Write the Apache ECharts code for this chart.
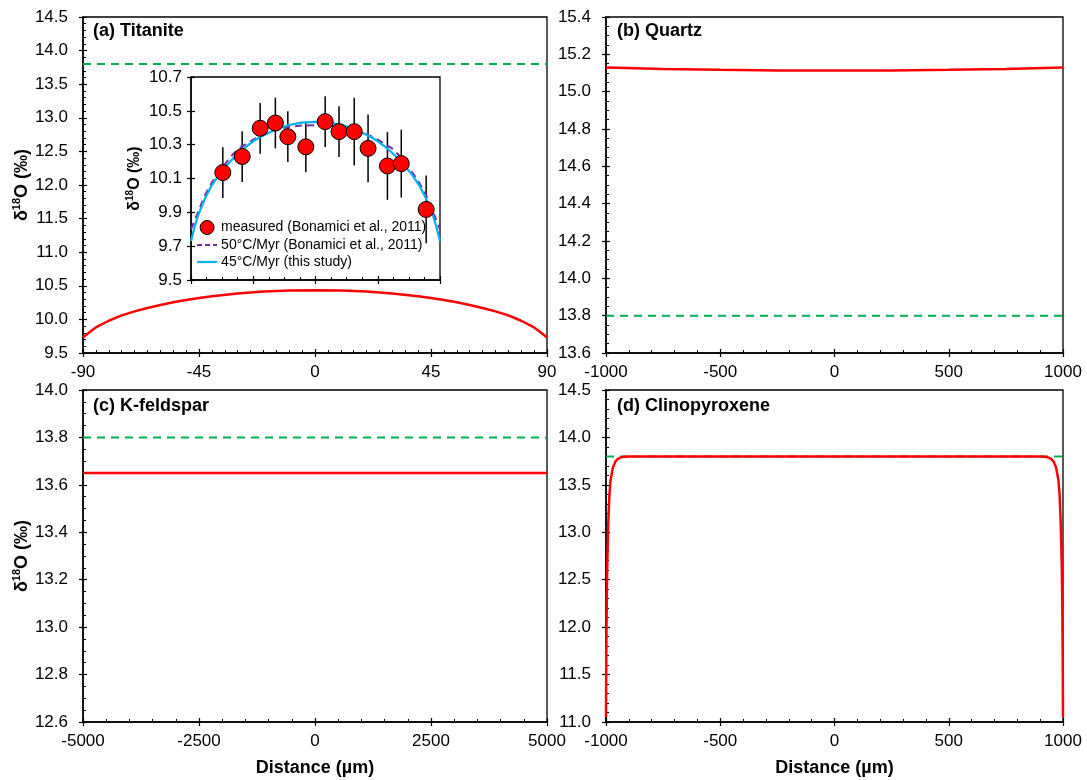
<!DOCTYPE html>
<html><head><meta charset="utf-8">
<script src="https://cdn.jsdelivr.net/npm/echarts@6/dist/echarts.min.js"></script>
<style>html,body{margin:0;background:#fff}#c{width:1087px;height:780px}</style>
</head><body><div id="c"></div><script>
// ---- data ----
const refLevel = 13.8; // green dashed reference
// (a) Titanite model profile (45°C/Myr)
const titaniteX = [-90,-87.5,-85,-80,-75,-70,-65,-60,-55,-50,-45,-40,-30,-20,-10,0,10,20,30,40,45,50,55,60,65,70,75,80,85,87.5,90];
const titaniteY = [9.73,9.81,9.88,9.98,10.06,10.12,10.17,10.215,10.255,10.29,10.32,10.345,10.385,10.415,10.43,10.435,10.43,10.415,10.385,10.345,10.32,10.29,10.255,10.215,10.17,10.12,10.06,9.98,9.88,9.81,9.73];
// 50°C/Myr (Bonamici et al., 2011)
const bonaX = [-90,-85,-80,-75,-70,-65,-60,-55,-50,-45,-40,-30,-20,-10,0,10,20,30,40,45,50,55,60,65,70,75,80,85,90];
const bonaY = [9.80,9.90,10.0,10.075,10.135,10.19,10.24,10.28,10.305,10.33,10.35,10.385,10.405,10.413,10.415,10.413,10.405,10.385,10.35,10.33,10.305,10.28,10.24,10.19,10.135,10.075,10.0,9.90,9.80];
// measured (Bonamici et al., 2011)
const measX = [-67,-53,-40,-29,-20,-7,7,17,28,38,52,62,80];
const measY = [10.135,10.23,10.397,10.428,10.347,10.287,10.436,10.377,10.377,10.278,10.174,10.188,9.917];
const measErr = [0.15,0.15,0.15,0.15,0.15,0.15,0.15,0.15,0.2,0.2,0.2,0.2,0.2];
// (b) Quartz
const quartzX = [-1000,-750,-500,-250,0,250,500,750,1000];
const quartzY = [15.13,15.122,15.117,15.114,15.113,15.114,15.117,15.122,15.13];
// (c) K-feldspar
const kfsX = [-5000,-2500,0,2500,5000];
const kfsY = [13.65,13.65,13.65,13.65,13.65];
// (d) Clinopyroxene
const cpxX = [-1000,-999,-997,-995,-990,-985,-980,-970,-960,-950,-940,-930,-920,-900,0,900,920,930,940,950,960,970,980,985,990,995,997,999,1000];
const cpxY = [11.05,11.6,12.2,12.6,13.1,13.4,13.55,13.68,13.74,13.77,13.785,13.793,13.797,13.8,13.8,13.8,13.797,13.793,13.785,13.77,13.74,13.68,13.55,13.4,13.1,12.6,12.2,11.6,11.05];
// axis settings
const xRanges = [[-90,90,45,9],[-1000,1000,500,5],[-5000,5000,2500,5],[-1000,1000,500,5],[-90,90,45,4]];
const yRanges = [[9.5,14.5,0.5,5],[13.6,15.4,0.2,4],[12.6,14.0,0.2,4],[11.0,14.5,0.5,5],[9.5,10.7,0.2,1]];
const insetTicks = [9.5,9.7,9.9,10.1,10.3,10.5,10.7];
const panelTitles = ['(a) Titanite','(b) Quartz','(c) K-feldspar','(d) Clinopyroxene'];
const legendNames = ['measured (Bonamici et al., 2011)','50°C/Myr (Bonamici et al., 2011)','45°C/Myr (this study)'];
const xTitle = 'Distance (µm)';
const yTitle = '{a|δ}{s|18}{a|O (‰)}';

const FONT = '"Liberation Sans", Arial, sans-serif';
const zip = (xs, ys) => xs.map((x, i) => [x, ys[i]]);
const grids = [
  {left: 83, top: 17, width: 464, height: 336},
  {left: 606, top: 17, width: 457, height: 336},
  {left: 83, top: 390, width: 464, height: 332},
  {left: 606, top: 390, width: 457, height: 332},
  {left: 191, top: 77, width: 249, height: 203}
].map(g => Object.assign(g, {show: true, borderColor: '#000', borderWidth: 1.3, backgroundColor: 'transparent'}));

const richName = {
  a: {fontSize: 18, fontWeight: 'bold', color: '#000', fontFamily: FONT, lineHeight: 22},
  s: {fontSize: 11, fontWeight: 'bold', color: '#000', fontFamily: FONT, lineHeight: 12, verticalAlign: 'top'}
};
const richInset = {
  a: {fontSize: 16, fontWeight: 'bold', color: '#000', fontFamily: FONT, lineHeight: 20},
  s: {fontSize: 10, fontWeight: 'bold', color: '#000', fontFamily: FONT, lineHeight: 11, verticalAlign: 'top'}
};

const xAxes = [], yAxes = [];
function inner(dim, i) {
  const r = dim === 'x' ? xRanges[i] : yRanges[i];
  const isInset = i === 4;
  const ax = {
    type: 'value', gridIndex: i, min: r[0], max: r[1], interval: r[2],
    position: dim === 'x' ? 'bottom' : 'left',
    axisLine: {show: true, onZero: false, lineStyle: {color: '#000', width: 1.5}},
    axisTick: {show: true, inside: true, length: 4, lineStyle: {color: '#000', width: 1.2}},
    minorTick: {show: r[3] > 1, splitNumber: r[3], length: 3, lineStyle: {color: '#000', width: 1}},
    splitLine: {show: false},
    axisLabel: {show: !(isInset && dim === 'x'), color: '#000', fontSize: 17, fontFamily: FONT,
      margin: dim === 'x' ? 11 : (isInset ? 9 : 15),
      formatter: v => dim === 'x' ? String(Math.round(v)) : v.toFixed(1)}
  };
  if (isInset && dim === 'y') {
    ax.axisTick.customValues = insetTicks;
    ax.axisLabel.customValues = insetTicks;
  }
  if (dim === 'x' && (i === 2 || i === 3)) {
    ax.name = xTitle; ax.nameLocation = 'middle'; ax.nameGap = 37;
    ax.nameTextStyle = {fontSize: 18, fontWeight: 'bold', color: '#000', fontFamily: FONT};
  }
  if (dim === 'y' && (i === 0 || i === 2)) {
    ax.name = yTitle; ax.nameLocation = 'middle'; ax.nameGap = 36;
    ax.nameTextStyle = {rich: richName};
  }
  if (dim === 'y' && isInset) {
    ax.name = yTitle; ax.nameLocation = 'middle'; ax.nameGap = 46;
    ax.nameTextStyle = {rich: richInset};
  }
  return ax;
}
function outer(dim, i) {
  const r = dim === 'x' ? xRanges[i] : yRanges[i];
  const ax = {
    type: 'value', gridIndex: i, min: r[0], max: r[1], interval: r[2],
    position: dim === 'x' ? 'bottom' : 'left',
    axisLine: {show: false, onZero: false},
    axisTick: {show: true, inside: false, length: 4, lineStyle: {color: '#000', width: 1.2}},
    minorTick: {show: false}, splitLine: {show: false}, axisLabel: {show: false}
  };
  if (i === 4 && dim === 'y') ax.axisTick.customValues = insetTicks;
  return ax;
}
for (let i = 0; i < 5; i++) { xAxes.push(inner('x', i)); yAxes.push(inner('y', i)); }
for (let i = 0; i < 5; i++) { xAxes.push(outer('x', i)); yAxes.push(outer('y', i)); }

const RED = '#ff0000', GREEN = '#00b050', BLUE = '#00b0f0', PURPLE = '#7030a0';
const line = (idx, data, color, extra) => Object.assign({
  type: 'line', xAxisIndex: idx, yAxisIndex: idx, data, symbol: 'none', smooth: false,
  lineStyle: {color, width: 2.5}, itemStyle: {color}, silent: true, animation: false, z: 3
}, extra || {});
const greenLine = idx => line(idx, [[xRanges[idx][0], refLevel], [xRanges[idx][1], refLevel]], GREEN,
  {lineStyle: {color: GREEN, width: 2, type: [8, 6]}, z: 2});

const series = [
  greenLine(0), line(0, zip(titaniteX, titaniteY), RED),
  greenLine(1), line(1, zip(quartzX, quartzY), RED),
  greenLine(2), line(2, zip(kfsX, kfsY), RED),
  greenLine(3), line(3, zip(cpxX, cpxY), RED, {z: 4}),
  {
    type: 'custom', xAxisIndex: 4, yAxisIndex: 4, z: 2, silent: true, animation: false,
    data: measX.map((x, i) => [x, measY[i] - measErr[i], measY[i] + measErr[i]]),
    encode: {x: 0, y: [1, 2]},
    renderItem: (params, api) => {
      const p1 = api.coord([api.value(0), api.value(1)]);
      const p2 = api.coord([api.value(0), api.value(2)]);
      return {type: 'line', shape: {x1: p1[0], y1: p1[1], x2: p2[0], y2: p2[1]}, style: {stroke: '#000', lineWidth: 1.5}};
    }
  },
  line(4, zip(bonaX, bonaY), PURPLE, {name: legendNames[1], lineStyle: {color: PURPLE, width: 2, type: [7, 5]}, z: 3}),
  line(4, zip(titaniteX, titaniteY), BLUE, {name: legendNames[2], lineStyle: {color: BLUE, width: 2.2}, z: 3}),
  {
    type: 'scatter', name: legendNames[0], xAxisIndex: 4, yAxisIndex: 4, z: 5, silent: true, animation: false,
    data: zip(measX, measY), symbol: 'circle', symbolSize: 16,
    itemStyle: {color: RED, borderColor: '#000', borderWidth: 1, opacity: 1}
  }
];

const titlePos = [[93, 22], [617, 22], [93, 397], [617, 397]];
const option = {
  animation: false,
  backgroundColor: '#fff',
  textStyle: {fontFamily: FONT},
  title: panelTitles.map((t, i) => ({text: t, left: titlePos[i][0], top: titlePos[i][1], padding: 0,
    textStyle: {fontSize: 18, fontWeight: 'bold', color: '#000', fontFamily: FONT}})),
  grid: grids,
  xAxis: xAxes,
  yAxis: yAxes,
  legend: {
    data: [
      {name: legendNames[0], icon: 'circle', itemStyle: {color: RED, borderColor: '#000', borderWidth: 1, opacity: 1}},
      {name: legendNames[1], itemStyle: {opacity: 0}, lineStyle: {color: PURPLE, width: 2, type: [5, 3]}},
      {name: legendNames[2], itemStyle: {opacity: 0}, lineStyle: {color: BLUE, width: 2.2}}
    ],
    orient: 'vertical', left: 196, top: 220, padding: 0, itemGap: 3, itemWidth: 20, itemHeight: 14,
    selectedMode: false,
    textStyle: {fontSize: 14, color: '#000', fontFamily: FONT, padding: [0, 0, 0, -1]}
  },
  series
};
const chart = echarts.init(document.getElementById('c'), null, {renderer: 'canvas'});
chart.setOption(option);
</script></body></html>
